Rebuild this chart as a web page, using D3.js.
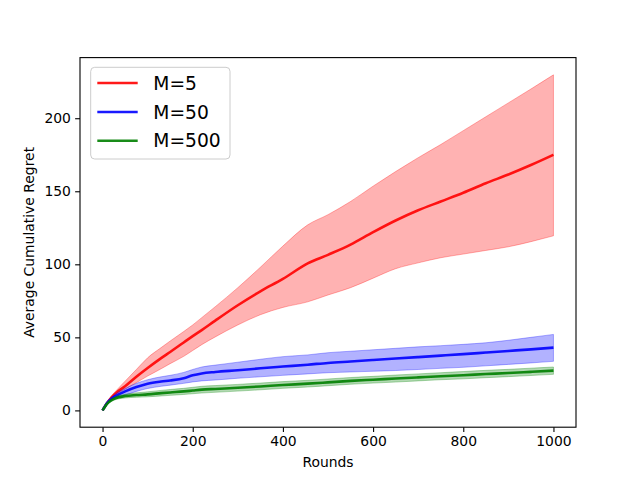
<!DOCTYPE html>
<html>
<head>
<meta charset="utf-8">
<script src="https://cdn.jsdelivr.net/npm/d3@7"></script>
<style>
  html, body { margin: 0; padding: 0; background: #fff; }
  svg { display: block; font-family: "DejaVu Sans", sans-serif; }
</style>
</head>
<body>
<svg id="chart" width="640" height="480"></svg>
<script>
const rounds = [0,10,20,30,50,75,100,130,150,180,200,220,250,300,350,400,455,500,550,600,650,700,750,800,850,900,950,1000];

const m5Mean  = [0,5,9,12,16.5,23,29,35.8,40,46.5,50.8,55,61.5,72,81.5,90,100.6,106.5,113.5,122,130,137,143,149,155.5,161.5,168,175];
const m5Upper = [0,5.5,10,13.5,20,28,36,43,47.5,54,58.5,63.5,71,84,98,112.5,127,134,143,153.5,163.5,173,182,191.5,201,210.5,220,229.7];
const m5Lower = [0,4.5,8,10.5,14.5,19,23.5,28.5,32,37,41,45,50.3,58.5,65.5,70.5,74.3,79,84,90.5,97,101,104.5,107,109.5,112,115.5,119.5];

const m50Mean  = [0,5,8,10,13,16,18.3,19.8,20.5,22,24,25.3,26.3,27.5,28.8,30,31.3,32.5,33.5,34.5,35.5,36.5,37.5,38.5,39.6,40.7,41.8,43];
const m50Upper = [0,6,9,11.5,15,18.5,21,23,24,26,28,29.7,31,33,35,36.8,38,39.5,40.5,41.5,42.5,43.5,44.3,45.2,46.3,48,50,52];
const m50Lower = [0,4,7,8.5,10.5,13,15,16.5,17.3,18.5,19.5,20.2,20.8,22,23,24,25,25.8,26.3,26.8,27.3,28,28.8,29.5,30.5,31.5,32.5,33.6];

const m500Mean  = [0,4.5,7,8.5,9.8,10.5,11,11.8,12.3,13,13.6,14.2,14.7,15.5,16.4,17.4,18.3,19.2,20.2,21,21.8,22.6,23.4,24.1,24.9,25.6,26.4,27.2];
const m500Upper = [0,5,7.8,9.5,11,12,12.7,13.7,14.3,15.1,15.8,16.5,17,17.8,18.7,19.7,20.6,21.5,22.5,23.3,24.2,25,25.8,26.6,27.4,28.1,28.9,29.7];
const m500Lower = [0,4,6.2,7.5,8.5,9,9.3,9.9,10.3,10.9,11.4,11.9,12.4,13.2,14.1,15.1,16,16.9,17.9,18.7,19.4,20.2,21,21.6,22.4,23.1,23.9,24.7];

const seriesNames = ["M=5", "M=50", "M=500"];
const xTicks = [0,200,400,600,800,1000];
const yTicks = [0,50,100,150,200];
const xLabel = "Rounds";
const yLabel = "Average Cumulative Regret";

const series = [
  { name: seriesNames[0], color: "#ff0000", mean: m5Mean,  upper: m5Upper,  lower: m5Lower },
  { name: seriesNames[1], color: "#0000ff", mean: m50Mean, upper: m50Upper, lower: m50Lower },
  { name: seriesNames[2], color: "#008000", mean: m500Mean, upper: m500Upper, lower: m500Lower }
];

const L = 80, R = 576, T = 57.6, B = 427.2;
const x = d3.scaleLinear().domain([-50, 1050]).range([L, R]);
const y = d3.scaleLinear().domain([-11.5, 241.5]).range([B, T]);

const svg = d3.select("#chart");
const plot = svg.append("g");

series.forEach(s => {
  const pts = rounds.map((r, i) => ({ r, m: s.mean[i], u: s.upper[i], l: s.lower[i] }));
  const area = d3.area().x(d => x(d.r)).y0(d => y(d.l)).y1(d => y(d.u)).curve(d3.curveMonotoneX);
  const line = d3.line().x(d => x(d.r)).y(d => y(d.m)).curve(d3.curveMonotoneX);
  plot.append("path").attr("d", area(pts))
    .attr("fill", s.color).attr("fill-opacity", 0.3)
    .attr("stroke", s.color).attr("stroke-opacity", 0.3).attr("stroke-width", 1);
  plot.append("path").attr("d", line(pts))
    .attr("fill", "none").attr("stroke", s.color).attr("stroke-opacity", 0.9)
    .attr("stroke-width", 2.6).attr("stroke-linejoin", "round");
});

// axes
const xAxis = d3.axisBottom(x).tickValues(xTicks).tickSize(4.86).tickPadding(4.2).tickFormat(d3.format("d"));
const yAxis = d3.axisLeft(y).tickValues(yTicks).tickSize(4.86).tickPadding(4.2).tickFormat(d3.format("d"));

const gx = svg.append("g").attr("transform", `translate(0,${B})`).call(xAxis);
const gy = svg.append("g").attr("transform", `translate(${L},0)`).call(yAxis);
[gx, gy].forEach(g => {
  g.select(".domain").remove();
  g.selectAll(".tick line").attr("stroke", "#000").attr("stroke-width", 1.1);
  g.selectAll(".tick text").attr("fill", "#000").style("font-size", "13.9px").style("font-family", "DejaVu Sans");
});

// spines
svg.append("rect").attr("x", L).attr("y", T).attr("width", R - L).attr("height", B - T)
  .attr("fill", "none").attr("stroke", "#000").attr("stroke-width", 1.1);

// axis labels
svg.append("text").attr("x", (L + R) / 2).attr("y", 462).attr("text-anchor", "middle")
  .attr("dominant-baseline", "central").style("font-size", "13.9px").text(xLabel);
svg.append("text").attr("transform", `translate(29,${(T + B) / 2}) rotate(-90)`)
  .attr("text-anchor", "middle").attr("dominant-baseline", "central")
  .style("font-size", "13.9px").text(yLabel);

// legend
const lg = svg.append("g");
lg.append("rect").attr("x", 90.7).attr("y", 67.3).attr("width", 139.3).attr("height", 91.7)
  .attr("rx", 4).attr("ry", 4).attr("fill", "#fff").attr("fill-opacity", 0.8)
  .attr("stroke", "#cccccc").attr("stroke-width", 1);
const rowY = [83, 112, 140.7];
series.forEach((s, i) => {
  lg.append("line").attr("x1", 97.3).attr("x2", 137.7).attr("y1", rowY[i]).attr("y2", rowY[i])
    .attr("stroke", s.color).attr("stroke-opacity", 0.9).attr("stroke-width", 2.6);
  lg.append("text").attr("x", 153.3).attr("y", rowY[i]).attr("dominant-baseline", "central")
    .style("font-size", "18.7px").attr("fill", "#000").text(s.name);
});
</script>
</body>
</html>
